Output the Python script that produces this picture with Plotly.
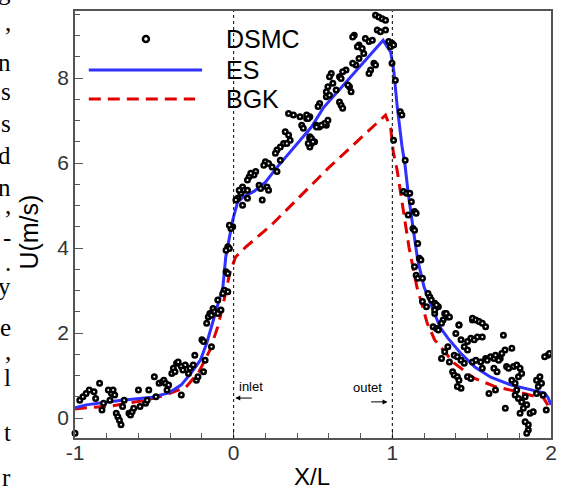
import plotly.graph_objects as go

# DSMC samples (X/L, U)
dsmc_x = [
    -1.00, -0.97, -0.95, -0.93, -0.91, -0.88, -0.87, -0.845, -0.83, -0.82, -0.79, -0.78, -0.77, -0.76, -0.75,
    -0.74, -0.73, -0.72, -0.71, -0.70, -0.69, -0.66, -0.65, -0.64, -0.63, -0.60, -0.59, -0.555, -0.545, -0.535,
    -0.50, -0.49, -0.47, -0.45, -0.44, -0.43, -0.42, -0.41, -0.39, -0.38, -0.37, -0.36, -0.35, -0.33, -0.32,
    -0.305, -0.33, -0.285, -0.275, -0.255, -0.245, -0.235, -0.225, -0.20, -0.19, -0.18, -0.17, -0.16, -0.15,
    -0.14, -0.13, -0.12, -0.10, -0.08, -0.14, -0.19, -0.10,
    0.346, 0.377, 0.418, 0.429, 0.439, 0.46, 0.48, 0.52, 0.54, 0.584, 0.325, 0.346, 0.356, 0.315, 0.335,
    0.294, 0.273, 0.263, 0.48, 0.49, 0.51, 0.48, 0.294, 0.20, 0.22, 0.242, 0.19, 0.273, 0.139, 0.128,
    0.098, 0.087, 0.108, 0.056, 0.066, 0.087, 0.045, 0.025, 0.014, 0.035, 0.16, 0.17, 0.21, 0.22, 0.18,
    0.056, 0.087, -0.006, -0.017, -0.027, -0.037, -0.027, -0.048, -0.048, -0.037, -0.058, -0.037, -0.068,
    0.894, 0.915, 0.936, 0.957, 0.905, 0.925, 0.957, 0.76, 0.75, 0.83, 0.853, 0.874, 0.79, 0.81, 0.78,
    0.977, 0.998, 0.988, 1.008, 0.82, 0.79, 0.884, 0.77, 0.75, 0.894, 0.863, 0.853, 0.708, 0.687, 0.667,
    0.677, 0.615, 0.604, 0.625, 0.594, 0.584, 0.646, 0.73, 0.74, 0.72, 0.584, 0.604, 0.667, 0.677, 0.687,
    0.542, 0.532, 0.594, 0.573, 0.553, 0.522, 0.46, 0.47, 0.48, 0.49, 0.50, 0.47, 0.998, 1.019, 1.05,
    1.06, 1.008,
    1.081, 1.07, 1.09, 1.11, 1.12, 1.14, 1.15, 1.10, 1.13, 1.14, 1.16, 1.17, 1.18, 1.14, 1.15, 1.16, 1.19,
    1.225, 1.236, 1.246, 1.19, 1.215, 1.267, 1.29, 1.267, 1.33, 1.35, 1.32, 1.257, 1.278, 1.42, 1.505,
    1.278, 1.267, 1.34, 1.36, 1.31, 1.29, 1.42, 1.40, 1.505, 1.526, 1.547, 1.567, 1.588, 1.433, 1.453,
    1.474, 1.495, 1.516, 1.536, 1.567, 1.35, 1.33, 1.31, 1.36, 1.39, 1.41, 1.433, 1.453, 1.474, 1.70,
    1.71, 1.69, 1.68, 1.753, 1.505, 1.526, 1.557, 1.588, 1.598, 1.619, 1.64, 1.65, 1.67, 1.38, 1.39,
    1.41, 1.42, 1.433, 1.41, 1.474, 1.495, 1.567, 1.64, 1.66, 1.72, 1.733, 1.764, 1.784, 1.805, 1.795,
    1.815, 1.753, 1.774, 1.784, 1.774, 1.795, 1.815, 1.837, 1.847, 1.826, 1.712, 1.609, 1.65, 1.805,
    1.868, 1.888, 1.909, 1.93, 1.92, 1.94, 1.909, 1.95, 1.97, 1.98, 1.96, 1.99, 1.857, 1.857, 1.847, 1.837,
]
dsmc_u = [
    -0.36, 0.42, 0.50, 0.58, 0.66, 0.62, 0.46, 0.82, 0.19, 0.35, 0.66, 0.42, 0.58, 0.66, 0.54,
    0.11, 0.03, -0.05, -0.16, 0.27, 0.42, 0.11, 0.07, 0.15, 0.23, 0.66, 0.27, 0.35, 0.42, 0.66,
    0.97, 0.50, 0.82, 0.85, 0.89, 0.82, 0.66, 0.78, 1.05, 1.17, 1.09, 1.29, 1.32, 1.21, 1.13,
    1.25, 0.54, 1.05, 1.17, 1.25, 1.48, 0.89, 0.97, 1.84, 1.09, 1.36, 2.23, 2.38, 2.46,
    2.42, 2.58, 2.50, 2.46, 2.54, 1.68, 1.80, 2.78,
    7.17, 7.13, 7.09, 6.89, 6.82, 7.05, 7.09, 6.89, 6.85, 6.89, 6.74, 6.66, 6.54, 6.46, 6.46,
    6.38, 6.31, 6.23, 6.58, 6.46, 6.50, 6.38, 6.07, 6.03, 5.99, 5.91, 5.95, 5.80, 5.80, 5.72,
    5.68, 5.60, 5.76, 5.44, 5.36, 5.36, 5.29, 5.17, 5.13, 5.36, 5.48, 5.40, 5.44, 5.36, 5.13,
    5.01, 5.17, 4.50, 4.46, 4.54, 4.03, 3.99, 3.95, 3.44, 3.40, 3.01, 2.97, 2.93,
    9.48, 9.44, 9.40, 9.36, 9.13, 9.09, 9.13, 9.01, 8.97, 8.93, 8.86, 8.89, 8.78, 8.70, 8.74,
    8.86, 8.82, 8.74, 8.78, 8.58, 8.46, 8.35, 8.31, 8.35, 8.31, 8.19, 8.11, 8.19, 8.15, 8.03,
    7.99, 8.11, 8.03, 7.88, 7.80, 7.68, 7.72, 7.80, 7.68, 7.84, 7.56, 7.60, 7.44, 7.36, 7.29,
    7.40, 7.33, 7.01, 6.93, 6.89, 6.85, 7.13, 7.05, 6.62, 6.58, 6.50, 6.46, 8.35, 7.95, 7.21,
    7.13, 6.54,
    6.07, 5.33, 5.29, 5.29, 5.09, 4.86, 4.82, 4.78, 4.46, 4.42, 4.11, 3.76, 3.72, 3.56, 3.36, 3.29, 3.29,
    2.93, 2.85, 2.78, 2.74, 2.62, 2.70, 2.62, 2.46, 2.46, 2.38, 2.31, 2.15, 2.11, 2.19, 2.31,
    2.66, 2.54, 2.46, 2.38, 2.23, 2.07, 2.19, 1.99, 2.35, 2.31, 2.27, 2.23, 2.15, 1.84, 1.68,
    1.80, 1.88, 1.84, 1.91, 1.91, 1.68, 1.56, 1.40, 1.32, 1.48, 1.44, 1.36, 1.29, 1.60, 1.95,
    1.60, 1.52, 1.40, 1.64, 1.32, 1.36, 1.32, 1.40, 1.36, 1.44, 1.40, 1.48, 1.36, 1.09, 1.01,
    0.97, 0.89, 0.70, 0.74, 0.97, 0.93, 1.17, 1.17, 1.09, 1.21, 1.17, 1.21, 1.25, 1.17, 0.97,
    1.05, 0.89, 0.82, 0.66, 0.54, 0.46, 0.38, 0.50, 0.31, 0.23, 0.23, 0.58, 0.66, 0.11,
    0.11, 0.15, 0.89, 0.97, 0.74, 0.82, 0.58, 0.54, 0.19, 1.48, 1.44, 1.52, -0.16, -0.28, -0.36, -0.09,
]

# ES model
es_x = [-1.0, -0.93, -0.72, -0.515, -0.41, -0.33, -0.27, -0.21, -0.17, -0.14, -0.11, -0.09, -0.068,
        -0.05, -0.025, -0.006, 0.025, 0.06, 0.13, 0.2, 0.273, 0.385, 0.49, 0.565, 0.665, 0.83, 0.942,
        0.99, 1.01, 1.03, 1.06, 1.08, 1.10, 1.13, 1.16, 1.20, 1.25, 1.30, 1.35, 1.43, 1.52, 1.62,
        1.745, 1.87, 1.96, 1.98, 2.0]
es_u = [0.24, 0.31, 0.41, 0.49, 0.59, 0.78, 1.05, 1.36, 1.76, 2.15, 2.54, 2.78, 3.08,
        3.79, 4.26, 4.66, 5.08, 5.2, 5.34, 5.55, 5.9, 6.38, 6.85, 7.3, 7.72, 8.4, 8.89,
        8.61, 8.14, 7.36, 6.42, 5.95, 5.29, 4.49, 3.72, 3.08, 2.61, 2.14, 1.88, 1.53, 1.20, 0.96,
        0.78, 0.66, 0.59, 0.49, 0.31]

# BGK model
bgk_x = [-1.0, -0.93, -0.78, -0.55, -0.43, -0.30, -0.22, -0.15, -0.10, -0.07, -0.025, 0.012, 0.075,
         0.24, 0.596, 0.665, 0.957, 0.99, 1.006, 1.03, 1.05, 1.07, 1.09, 1.105, 1.13, 1.155, 1.185,
         1.22, 1.267, 1.39, 1.515, 1.64, 1.764, 1.89, 1.95, 1.99]
bgk_u = [0.21, 0.24, 0.28, 0.42, 0.54, 0.73, 1.08, 1.6, 2.15, 2.61, 3.41, 3.79, 4.02,
         4.55, 5.88, 6.12, 7.13, 6.82, 6.26, 5.84, 5.36, 4.89, 4.42, 4.02, 3.55, 3.08, 2.7,
         2.23, 1.84, 1.29, 0.94, 0.75, 0.64, 0.52, 0.49, 0.24]

x_ticks = [-1, 0, 1, 2]
x_labels = ["-1", "0", "1", "2"]
y_ticks = [0, 2, 4, 6, 8]

# clipped words of the page text on the left edge
frag_text = ["g", ",", "n", "s", "s", "d", "n", ",", "-", ".", "y", "e", ",", "l", "t", "r"]
frag_ypx = [6, 37, 77, 106, 138, 170, 202, 220, 252, 277, 301, 342, 366, 392, 447, 492]

W, H = 563, 489
L, R, T, B = 75, 6, 11, 51
xr = [-1, 2]
yr = [-0.47, 9.58]

fig = go.Figure()

fig.add_trace(go.Scatter(
    x=bgk_x, y=bgk_u, mode="lines", name="BGK",
    line=dict(color="#e00000", width=3, dash="12px,7px"),
))
fig.add_trace(go.Scatter(
    x=es_x, y=es_u, mode="lines", name="ES",
    line=dict(color="#3030ff", width=3),
))
fig.add_trace(go.Scatter(
    x=dsmc_x, y=dsmc_u, mode="markers", name="DSMC", cliponaxis=False,
    marker=dict(symbol="circle", size=4.5, color="white", line=dict(color="black", width=2.5)),
))

# dotted lines at inlet / outlet
for xv in [0, 1]:
    fig.add_shape(type="line", x0=xv, x1=xv, y0=0, y1=1, xref="x", yref="paper",
                  line=dict(color="black", width=1, dash="dot"))

# hand made legend (data coords)
fig.add_shape(type="circle", xref="x", yref="y", xsizemode="pixel", ysizemode="pixel",
              xanchor=-0.553, yanchor=8.92, x0=-3, x1=3, y0=-3, y1=3,
              fillcolor="white", line=dict(color="black", width=2.5))
fig.add_shape(type="line", xref="x", yref="y", x0=-0.913, x1=-0.199, y0=8.19, y1=8.19,
              line=dict(color="#3030ff", width=3))
fig.add_shape(type="line", xref="x", yref="y", x0=-0.913, x1=-0.243, y0=7.51, y1=7.51,
              line=dict(color="#e00000", width=3, dash="12px,7px"))
for txt, yy in [("DSMC", 8.92), ("ES", 8.19), ("BGK", 7.51)]:
    fig.add_annotation(x=-0.062, y=yy, xref="x", yref="y", text=txt, showarrow=False,
                       xanchor="left", yanchor="middle",
                       font=dict(family="Liberation Sans, Arial", size=25, color="black"))

# inlet / outlet arrows
fig.add_annotation(x=0.01, y=0.47, ax=0.124, ay=0.47, xref="x", yref="y", axref="x", ayref="y",
                   text="", showarrow=True, arrowhead=2, arrowsize=1, arrowwidth=1, arrowcolor="black")
fig.add_annotation(x=0.112, y=0.75, xref="x", yref="y", text="inlet", showarrow=False,
                   font=dict(family="Liberation Sans, Arial", size=13, color="black"))
fig.add_annotation(x=0.97, y=0.38, ax=0.857, ay=0.38, xref="x", yref="y", axref="x", ayref="y",
                   text="", showarrow=True, arrowhead=2, arrowsize=1, arrowwidth=1, arrowcolor="black")
fig.add_annotation(x=0.845, y=0.73, xref="x", yref="y", text="outet", showarrow=False,
                   font=dict(family="Liberation Sans, Arial", size=13, color="black"))

# axis titles
pw, ph = W - L - R, H - T - B
fig.add_annotation(x=(315 - L) / pw, y=(H - B - 476) / ph, xref="paper", yref="paper",
                   text="X/L", showarrow=False, xanchor="center", yanchor="middle",
                   font=dict(family="Liberation Sans, Arial", size=24, color="black"))
fig.add_annotation(x=(28 - L) / pw, y=(H - B - 232) / ph, xref="paper", yref="paper",
                   text="U(m/s)", textangle=-90, showarrow=False, xanchor="center", yanchor="middle",
                   font=dict(family="Liberation Sans, Arial", size=25, color="black"))

for ch, ypx in zip(frag_text, frag_ypx):
    fig.add_annotation(x=(11 - L) / pw, y=(H - B - ypx) / ph, xref="paper", yref="paper",
                       text=ch, showarrow=False, xanchor="right", yanchor="bottom",
                       font=dict(family="Liberation Serif, DejaVu Serif", size=25, color="black"),
                       borderpad=0)

axis_style = dict(
    showline=True, linecolor="#555", linewidth=1.5, mirror=True,
    ticks="inside", ticklen=8, tickcolor="#555", tickwidth=1,
    showgrid=False, zeroline=False,
    tickfont=dict(family="Liberation Sans, Arial", size=21, color="#333"),
)
fig.update_xaxes(range=xr, tickvals=x_ticks, ticktext=x_labels, ticklabelstandoff=-5,
                 minor=dict(dtick=0.2, tick0=-1, ticks="inside", ticklen=5, tickcolor="#555"),
                 **axis_style)
fig.update_yaxes(range=yr, tickvals=y_ticks,
                 minor=dict(dtick=0.5, tick0=0, ticks="inside", ticklen=5, tickcolor="#555"),
                 **axis_style)

fig.update_layout(
    width=W, height=H,
    margin=dict(l=L, r=R, t=T, b=B),
    plot_bgcolor="white", paper_bgcolor="white",
    showlegend=False,
)

# page body has a default 8px margin; drop it so the figure sits at the window corner
fig.write_html("out.html", config={"displayModeBar": False},
               post_script="document.body.style.margin='0';")
